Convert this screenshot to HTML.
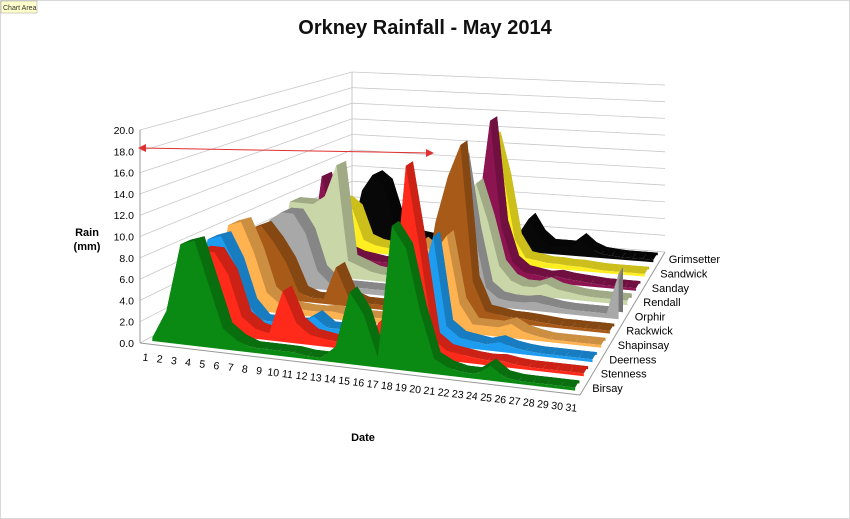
<!DOCTYPE html>
<html><head><meta charset="utf-8"><style>
html,body{margin:0;padding:0;background:#fff;}
svg{display:block;font-family:"Liberation Sans",sans-serif;}
</style></head><body>
<svg id="s" width="850" height="519" viewBox="0 0 850 519" xmlns="http://www.w3.org/2000/svg">
<rect x="0.5" y="0.5" width="849" height="518" fill="#fff" stroke="#d8d8d8"/>
<rect x="1" y="1" width="36" height="12" fill="#ffffcc" stroke="#999" stroke-width="0.5"/>
<text x="3" y="10" font-size="7" fill="#333">Chart Area</text>
<text x="425" y="34" font-size="20" font-weight="bold" text-anchor="middle" fill="#111">Orkney Rainfall - May 2014</text>
<text x="87" y="236" font-size="11" font-weight="bold" text-anchor="middle">Rain</text>
<text x="87" y="250" font-size="11" font-weight="bold" text-anchor="middle">(mm)</text>
<text x="363" y="441" font-size="11" font-weight="bold" text-anchor="middle">Date</text>
<g id="g"></g>
</svg>
<script>
var FL=[140,343],FR=[580,395],BL=[352,228],BR=[665,252];
function lerp(a,b,t){return a+(b-a)*t;}
function P(u,t,h){
 var x=lerp(lerp(FL[0],FR[0],u),lerp(BL[0],BR[0],u),t);
 var y=lerp(lerp(FL[1],FR[1],u),lerp(BL[1],BR[1],u),t);
 var sc=lerp(lerp(10.65,10.0,u),lerp(7.8,8.35,u),t);
 return [x,y-h*sc];}
var out='';
for(var k=0;k<=10;k++){
 var a=P(0,0,k*2),b=P(0,1,k*2),c=P(1,1,k*2);
 out+='<polyline points="'+a+' '+b+' '+c+'" fill="none" stroke="#c8c8c8" stroke-width="0.8"/>';
 out+='<text x="'+(a[0]-6)+'" y="'+(a[1]+4)+'" font-size="10.5" text-anchor="end">'+(k*2).toFixed(1)+'</text>';
}
var f0=P(0,0,0),f1=P(0,0,20),f2=P(1,0,0),b0=P(0,1,0),b1=P(0,1,20),b2=P(1,1,0);
out+='<line x1="'+f0[0]+'" y1="'+f0[1]+'" x2="'+f1[0]+'" y2="'+f1[1]+'" stroke="#999"/>';
out+='<line x1="'+f0[0]+'" y1="'+f0[1]+'" x2="'+f2[0]+'" y2="'+f2[1]+'" stroke="#999"/>';
out+='<line x1="'+b0[0]+'" y1="'+b0[1]+'" x2="'+b1[0]+'" y2="'+b1[1]+'" stroke="#c8c8c8"/>';
out+='<line x1="'+f2[0]+'" y1="'+f2[1]+'" x2="'+b2[0]+'" y2="'+b2[1]+'" stroke="#999"/>';
var names=['Birsay','Stenness','Deerness','Shapinsay','Rackwick','Orphir','Rendall','Sanday','Sandwick','Grimsetter'];
var cols=['#0a8a12','#ff2a1a','#1e9cf0','#ffb250','#a85a18','#a8a8a8','#c8d6a8','#8c1450','#ffee22','#080808'];
var D=[
[0.3,3,9.5,10,6,2,1,0.5,0.5,0.5,0.5,0.3,0.3,1.5,7,5,1,14,12,6,1.5,0.8,0.5,0.5,1.5,0.5,0.3,0.3,0.3,0.3,0.3],
[0.2,7,8,8,6,2,1,0.7,5,2,1,0.8,0.6,0.5,0.5,3,4,19,11,2,1,0.8,0.6,0.5,0.6,0.4,0.3,0.3,0.3,0.3,0.3],
[0.2,8,8.5,6,2,0.5,0.5,0.5,0.6,1.5,0.5,0.5,0.5,0.5,0.5,1,8,6,11,2,1,0.8,0.6,1,0.6,0.4,0.3,0.3,0.3,0.3,0.3],
[0.2,8.5,9,6,2,1,0.7,0.6,0.6,0.8,0.6,0.6,0.6,0.6,0.6,1,9,8,10,3,1,1,1,1.5,0.8,0.5,0.3,0.3,0.3,0.3,0.3],
[0.2,7,7.6,6,4,1,0.5,0.5,4,1,0.5,0.5,0.5,0.5,0.5,2,10,15,18.5,4,1,0.8,0.6,0.6,0.5,0.4,0.3,0.3,0.3,0.3,0.3],
[0.2,7,8,8,6,2,0.8,0.6,0.6,0.6,0.6,0.6,0.6,0.6,0.6,3,5,16,8,2,1,0.8,0.8,1,0.8,0.6,0.5,0.5,0.5,0.5,5],
[0.3,8,8,8,9,12.6,2,1.5,1,0.8,0.8,0.8,0.8,0.8,0.8,1,10,12,8,3,1.5,1,1,1.5,1,0.8,0.6,0.5,0.5,0.5,0.5],
[0.2,0.3,10,4,1.5,1,0.8,0.6,0.6,0.6,0.6,0.6,0.6,0.6,0.6,3,8,18,6,2,1,0.8,0.6,0.8,0.6,0.5,0.4,0.3,0.3,0.3,0.3],
[0.2,0.3,6,5,1.5,1,0.8,0.6,0.6,0.6,0.6,0.6,0.6,0.6,0.6,1,15,10,3,1,0.8,0.6,0.6,0.5,0.5,0.4,0.3,0.3,0.3,0.3,0.3],
[0.2,0.3,6,8,7,3,1,0.8,0.6,0.6,0.6,0.6,0.6,0.6,0.6,0.6,1,2,4,2,1,1,1,2,1,0.5,0.4,0.3,0.3,0.3,0.3]];
function shade(c,f){var n=parseInt(c.slice(1),16);var r=(n>>16)*f,g=(n>>8&255)*f,b=(n&255)*f;return 'rgb('+[r,g,b].map(Math.round)+')';}
function pts(a){return a.map(function(p){return p[0].toFixed(1)+','+p[1].toFixed(1)}).join(' ');}
for(var s=9;s>=0;s--){
 var tc=(s+0.5)/10,tf=tc-0.025,tb=tc+0.025,d=D[s];
 var front=[],back=[];
 for(var i=0;i<31;i++){var u=(i+0.5)/31;front.push(P(u,tf,d[i]));back.push(P(u,tb,d[i]));}
 var fb=[P(0.5/31,tf,0)].concat(front).concat([P(30.5/31,tf,0)]);
 var bb=[P(0.5/31,tb,0)].concat(back).concat([P(30.5/31,tb,0)]);
 out+='<polygon points="'+pts(bb)+'" fill="'+shade(cols[s],0.7)+'"/>';
 for(var i=0;i<30;i++){
  out+='<polygon points="'+pts([front[i],front[i+1],back[i+1],back[i]])+'" fill="'+shade(cols[s],0.8)+'"/>';
 }
 out+='<polygon points="'+pts(fb)+'" fill="'+cols[s]+'"/>';
 var e=P(1,tc,0);
 out+='<text x="'+(e[0]+8)+'" y="'+(e[1]+4)+'" font-size="11">'+names[s]+'</text>';
}
for(var i=0;i<31;i++){var p=P((i+0.5)/31,0,0);
 out+='<text transform="translate('+(p[0]-2)+','+(p[1]+17)+') rotate(7)" font-size="10.5" text-anchor="middle">'+(i+1)+'</text>';}
out+='<line x1="142" y1="148" x2="430" y2="153" stroke="#e03030" stroke-width="1"/>';
out+='<polygon points="138,148 146,144 146,152" fill="#e03030"/><polygon points="434,153 426,149 426,157" fill="#e03030"/>';
document.getElementById('g').innerHTML=out;
</script>
</body></html>
